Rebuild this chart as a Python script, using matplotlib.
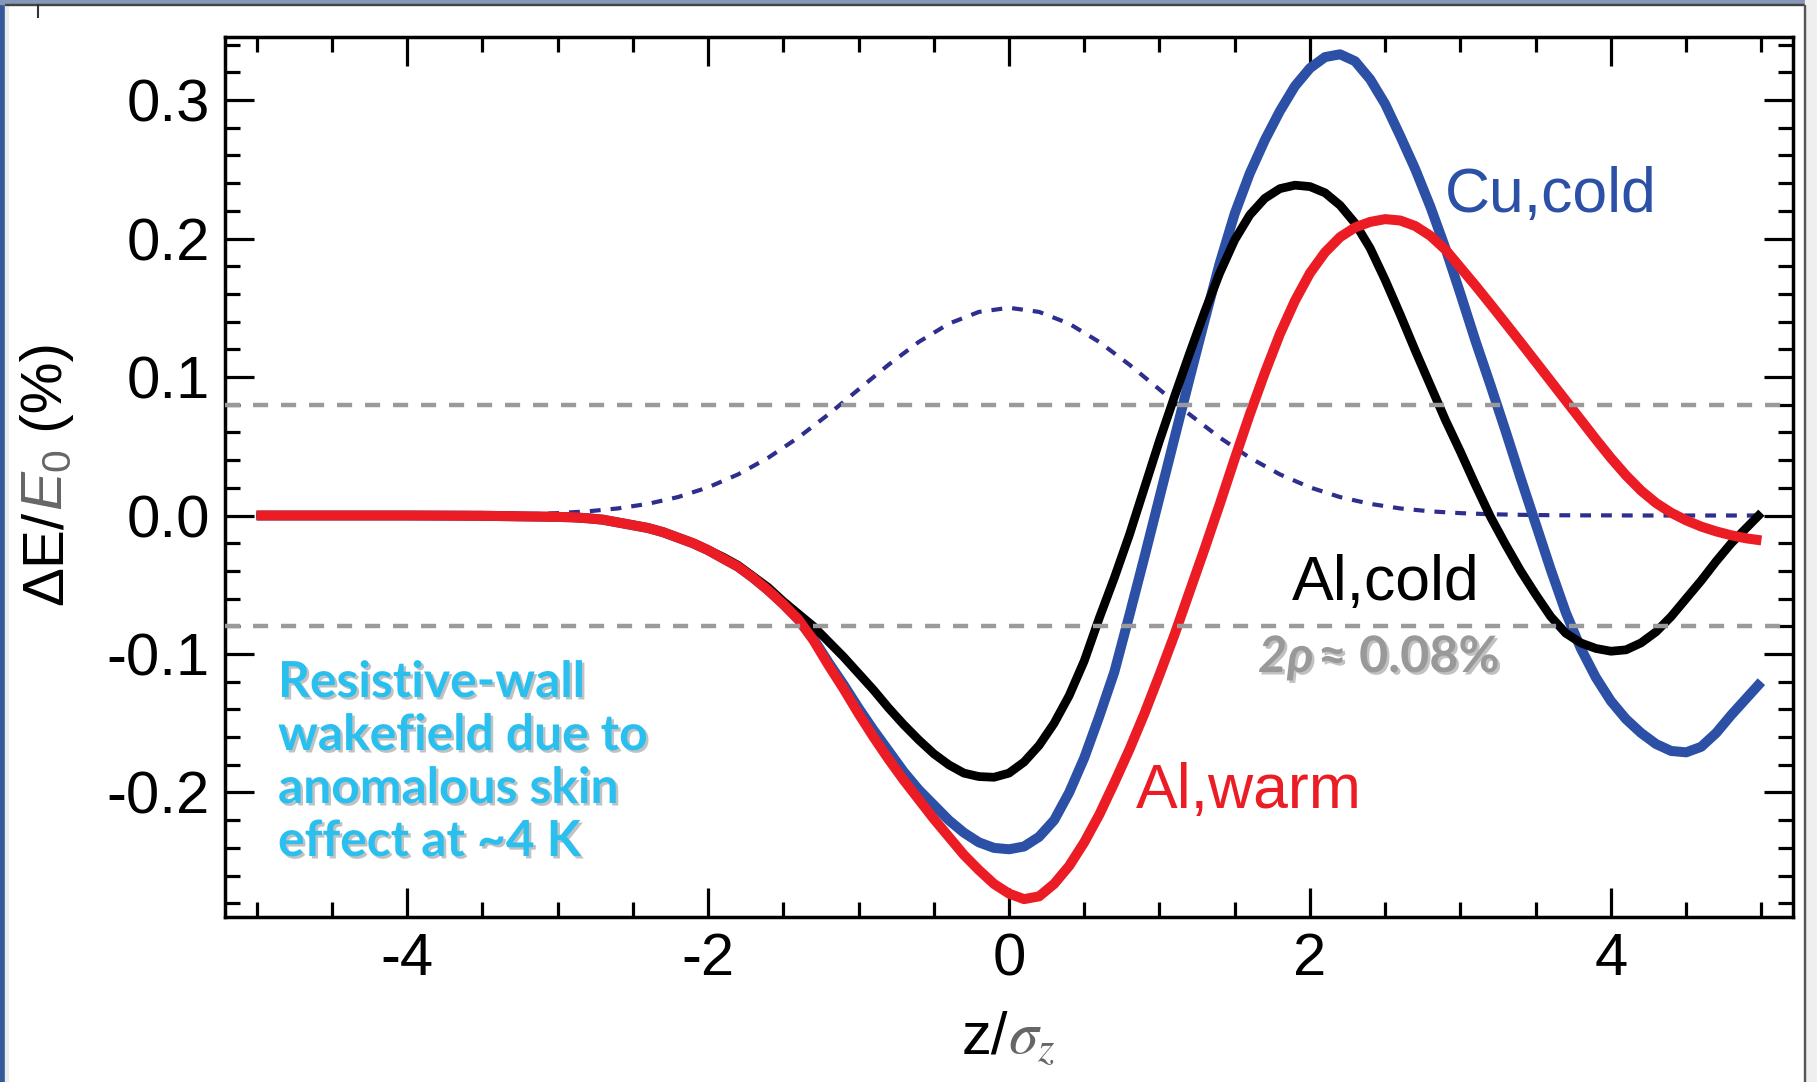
import matplotlib
matplotlib.use("Agg")
import matplotlib.pyplot as plt
from matplotlib.ticker import MultipleLocator
import matplotlib.patheffects as pe
from matplotlib.lines import Line2D
from matplotlib.patches import Rectangle

# ---------------- data ----------------
z = [-5.0, -4.5, -4.0, -3.5,
     -3.0, -2.9, -2.8, -2.7, -2.6, -2.5, -2.4, -2.3, -2.2, -2.1,
     -2.0, -1.9, -1.8, -1.7, -1.6, -1.5, -1.4, -1.3, -1.2, -1.1,
     -1.0, -0.9, -0.8, -0.7, -0.6, -0.5, -0.4, -0.3, -0.2, -0.1,
     0.0, 0.1, 0.2, 0.3, 0.4, 0.5, 0.6, 0.7, 0.8, 0.9,
     1.0, 1.1, 1.2, 1.3, 1.4, 1.5, 1.6, 1.7, 1.8, 1.9,
     2.0, 2.1, 2.2, 2.3, 2.4, 2.5, 2.6, 2.7, 2.8, 2.9,
     3.0, 3.1, 3.2, 3.3, 3.4, 3.5, 3.6, 3.7, 3.8, 3.9,
     4.0, 4.1, 4.2, 4.3, 4.4, 4.5, 4.6, 4.7, 4.8, 4.9,
     5.0]

al_warm = [0.0, 0.0, 0.0, -0.0002,
           -0.001, -0.0013, -0.002, -0.003, -0.005, -0.007, -0.009, -0.012, -0.016, -0.020,
           -0.025, -0.031, -0.037, -0.045, -0.054, -0.064, -0.075, -0.090, -0.108, -0.125,
           -0.143, -0.160, -0.176, -0.191, -0.205, -0.219, -0.232, -0.245, -0.256, -0.266,
           -0.273, -0.277, -0.275, -0.266, -0.253, -0.236, -0.216, -0.193, -0.169, -0.143,
           -0.115, -0.086, -0.055, -0.024, 0.008, 0.041, 0.073, 0.103, 0.131, 0.155,
           0.175, 0.190, 0.201, 0.208, 0.212, 0.214, 0.213, 0.209, 0.202, 0.192,
           0.179, 0.166, 0.1525, 0.1388, 0.125, 0.111, 0.097, 0.083, 0.069, 0.055,
           0.0415, 0.029, 0.018, 0.009, 0.002, -0.0035, -0.008, -0.0115, -0.0143, -0.0165,
           -0.018]

cu_cold = [0.0, 0.0, 0.0, -0.0002,
           -0.001, -0.0013, -0.002, -0.003, -0.005, -0.007, -0.009, -0.012, -0.016, -0.020,
           -0.025, -0.031, -0.037, -0.045, -0.054, -0.064, -0.075, -0.089, -0.106, -0.122,
           -0.139, -0.155, -0.170, -0.185, -0.198, -0.209, -0.220, -0.229, -0.236, -0.240,
           -0.241, -0.239, -0.232, -0.220, -0.200, -0.175, -0.145, -0.113, -0.072, -0.030,
           0.013, 0.056, 0.099, 0.141, 0.182, 0.218, 0.247, 0.271, 0.292, 0.310,
           0.323, 0.331, 0.333, 0.328, 0.315, 0.297, 0.274, 0.250, 0.223, 0.193,
           0.160, 0.126, 0.094, 0.061, 0.027, -0.006, -0.039, -0.070, -0.096, -0.117,
           -0.134, -0.147, -0.157, -0.165, -0.170, -0.171, -0.167, -0.157, -0.144, -0.132,
           -0.120]

al_cold = [0.0, 0.0, 0.0, -0.0002,
           -0.001, -0.0013, -0.002, -0.003, -0.005, -0.007, -0.009, -0.012, -0.016, -0.020,
           -0.025, -0.030, -0.036, -0.044, -0.052, -0.062, -0.071, -0.080, -0.091, -0.102,
           -0.114, -0.126, -0.139, -0.151, -0.162, -0.172, -0.180, -0.186, -0.1885, -0.189,
           -0.186, -0.178, -0.166, -0.150, -0.130, -0.105, -0.074, -0.045, -0.014, 0.020,
           0.054, 0.086, 0.117, 0.147, 0.175, 0.199, 0.217, 0.229, 0.236, 0.2385,
           0.2375, 0.233, 0.224, 0.211, 0.193, 0.170, 0.145, 0.119, 0.094, 0.069,
           0.046, 0.022, -0.001, -0.021, -0.040, -0.057, -0.073, -0.085, -0.092, -0.096,
           -0.098, -0.097, -0.092, -0.084, -0.073, -0.060, -0.047, -0.033, -0.020, -0.009,
           0.002]

z_bunch = [-5.0, -4.8, -4.6, -4.4, -4.2, -4.0, -3.8, -3.6, -3.4, -3.2, -3.0,
           -2.8, -2.6, -2.4, -2.2, -2.0, -1.8, -1.6, -1.4, -1.2, -1.0,
           -0.8, -0.6, -0.4, -0.2, 0.0, 0.2, 0.4, 0.6, 0.8, 1.0,
           1.2, 1.4, 1.6, 1.8, 2.0, 2.2, 2.4, 2.6, 2.8, 3.0,
           3.2, 3.4, 3.6, 3.8, 4.0, 4.2, 4.4, 4.6, 4.8, 5.0]
bunch = [0.0, 0.0, 0.0, 0.0, 0.0, 0.0001, 0.0001, 0.0002, 0.0005, 0.0009, 0.0017,
         0.0030, 0.0051, 0.0084, 0.0133, 0.0203, 0.0297, 0.0417, 0.0563, 0.0730, 0.0910,
         0.1089, 0.1253, 0.1385, 0.1470, 0.1500, 0.1470, 0.1385, 0.1253, 0.1089, 0.0910,
         0.0730, 0.0563, 0.0417, 0.0297, 0.0203, 0.0133, 0.0084, 0.0051, 0.0030, 0.0017,
         0.0009, 0.0005, 0.0002, 0.0001, 0.0001, 0.0, 0.0, 0.0, 0.0, 0.0]

thresholds = [0.08, -0.08]

xticks = [-4, -2, 0, 2, 4]
xtick_labels = ["-4", "-2", "0", "2", "4"]
yticks = [-0.2, -0.1, 0.0, 0.1, 0.2, 0.3]
ytick_labels = ["-0.2", "-0.1", "0.0", "0.1", "0.2", "0.3"]

series_labels = ["Cu,cold", "Al,cold", "Al,warm"]
note_lines = ["Resistive-wall", "wakefield due to", "anomalous skin", "effect at ~4 K"]

# ---------------- style ----------------
W, H = 1817, 1082
plt.rcParams["font.family"] = ["Liberation Sans", "DejaVu Sans"]
plt.rcParams["mathtext.fontset"] = "custom"
plt.rcParams["mathtext.rm"] = "Liberation Sans"
plt.rcParams["mathtext.it"] = "Liberation Sans:italic"
plt.rcParams["axes.unicode_minus"] = False

BLUE = "#2B50A6"
RED = "#EC1C24"
BLACK = "#000000"
NAVY = "#2E2E8E"
GRAY = "#9A9A9A"
CYAN = "#29BFEF"
FS = 43

fig = plt.figure(figsize=(W / 100, H / 100), dpi=100)
fig.patch.set_facecolor("white")

def fx(px):
    return px / W

def fy(py):
    return 1 - py / H

ax = fig.add_axes([fx(225), fy(917), fx(1793) - fx(225), fy(37) - fy(917)])

ax.plot(z_bunch, bunch, color=NAVY, lw=3.0, ls=(0, (2.6, 2.4)), zorder=2)
ax.plot(z, cu_cold, color=BLUE, lw=7.2, zorder=3, solid_capstyle="butt", solid_joinstyle="round")
ax.plot(z, al_cold, color=BLACK, lw=6.3, zorder=4, solid_capstyle="butt", solid_joinstyle="round")
ax.plot(z, al_warm, color=RED, lw=7.2, zorder=5, solid_capstyle="butt", solid_joinstyle="round")
for t in thresholds:
    ax.axhline(t, color=GRAY, lw=3.2, ls=(0, (3.4, 2.9)), zorder=6)

ax.set_xlim(-5.21, 5.21)
ax.set_ylim(-0.2899, 0.3455)
ax.set_xticks(xticks, labels=xtick_labels)
ax.set_yticks(yticks, labels=ytick_labels)
ax.xaxis.set_minor_locator(MultipleLocator(0.5))
ax.yaxis.set_minor_locator(MultipleLocator(0.02))
ax.tick_params(which="both", direction="in", top=True, right=True, width=2.3,
               labelsize=FS, pad=11, color="black")
ax.tick_params(which="major", length=21)
ax.tick_params(which="minor", length=11)
for s in ax.spines.values():
    s.set_linewidth(2.5)

# series labels
ax.text(2.897, 0.219, series_labels[0], color=BLUE, fontsize=FS + 2, ha="left", va="baseline")
ax.text(1.88, -0.061, series_labels[1], color=BLACK, fontsize=FS + 2, ha="left", va="baseline")
ax.text(0.844, -0.211, series_labels[2], color=RED, fontsize=FS + 2, ha="left", va="baseline")

renderer = fig.canvas.get_renderer()

# ---- y label (pieces, rotated) ----
ylab_pieces = [("\u0394E/", "black"), ("$E_0$", "#666666"), (" (%)", "black")]
ypos = fy(605)
for txt, col in ylab_pieces:
    t = fig.text(fx(62), ypos, txt, rotation=90, rotation_mode="anchor",
                 ha="left", va="baseline", fontsize=FS - 1, color=col)
    bb = t.get_window_extent(renderer)
    ypos += bb.height / H

# ---- x label (pieces) ----
xlab_pieces = [("z/", "black", "custom"), (r"$\sigma_z$", "#666666", "stix")]
texts = []
total = 0
for txt, col, mf in xlab_pieces:
    t = fig.text(0, fy(1053), txt, ha="left", va="baseline", fontsize=FS, color=col,
                 math_fontfamily=mf)
    w = t.get_window_extent(renderer).width
    texts.append((t, w))
    total += w
xstart = 1009 - total / 2
for t, w in texts:
    t.set_x(fx(xstart))
    xstart += w

# ---- cyan note with shadow ----
shadow = [pe.withSimplePatchShadow(offset=(1.8, -1.8), shadow_rgbFace="#777777", alpha=0.45)]
probe = fig.text(0, 0, note_lines[1], fontsize=30, fontweight="bold", family=["Lato", "DejaVu Sans"])
wprobe = probe.get_window_extent(renderer).width
probe.remove()
note_fs = 30 * 369 / wprobe
for i, line in enumerate(note_lines):
    fig.text(fx(278), fy(697 + 53 * i), line, fontsize=note_fs, fontweight="bold",
             family=["Lato", "DejaVu Sans"], color=CYAN, ha="left", va="baseline",
             path_effects=shadow)

# ---- gray 2rho text ----
g1 = fig.text(fx(1258), fy(672), "2\u03c1", fontsize=30, fontweight="bold", fontstyle="italic",
              family=["Lato", "DejaVu Sans"], color="#999999", ha="left", va="baseline",
              path_effects=shadow)
g2 = fig.text(0, fy(672), "\u2248 0.08%", fontsize=30, fontweight="bold",
              family=["Lato", "DejaVu Sans"], color="#999999", ha="left", va="baseline",
              path_effects=shadow)
w1 = g1.get_window_extent(renderer).width
w2 = g2.get_window_extent(renderer).width
gfs = 30 * 242 / (w1 + w2 + 4)
g1.set_fontsize(gfs)
g2.set_fontsize(gfs)
w1 = g1.get_window_extent(renderer).width
g2.set_x(fx(1258 + w1 + 4))

# ---- screenshot frame ----
fig.add_artist(Rectangle((0, 0), fx(5), 1, transform=fig.transFigure, color="#35589B", zorder=10))
fig.add_artist(Rectangle((fx(5), 0), fx(3), 1, transform=fig.transFigure, color="#ECECEC", zorder=10))
fig.add_artist(Rectangle((0, fy(4)), 1, 4 / H, transform=fig.transFigure, color="#8797BA", zorder=10))
fig.add_artist(Rectangle((fx(5), fy(5)), 1, 1 / H, transform=fig.transFigure, color="#444444", zorder=10))
fig.add_artist(Rectangle((fx(1805), 0), fx(12), 1, transform=fig.transFigure, color="#EFEFEF", zorder=10))
fig.add_artist(Rectangle((fx(1804), 0), fx(1.2), fy(5), transform=fig.transFigure, color="#555555", zorder=10))
fig.add_artist(Line2D([fx(38), fx(38)], [fy(5), fy(17)], transform=fig.transFigure,
                      color="#333333", lw=1.5, zorder=10))

fig.savefig("out.png", dpi=100)
